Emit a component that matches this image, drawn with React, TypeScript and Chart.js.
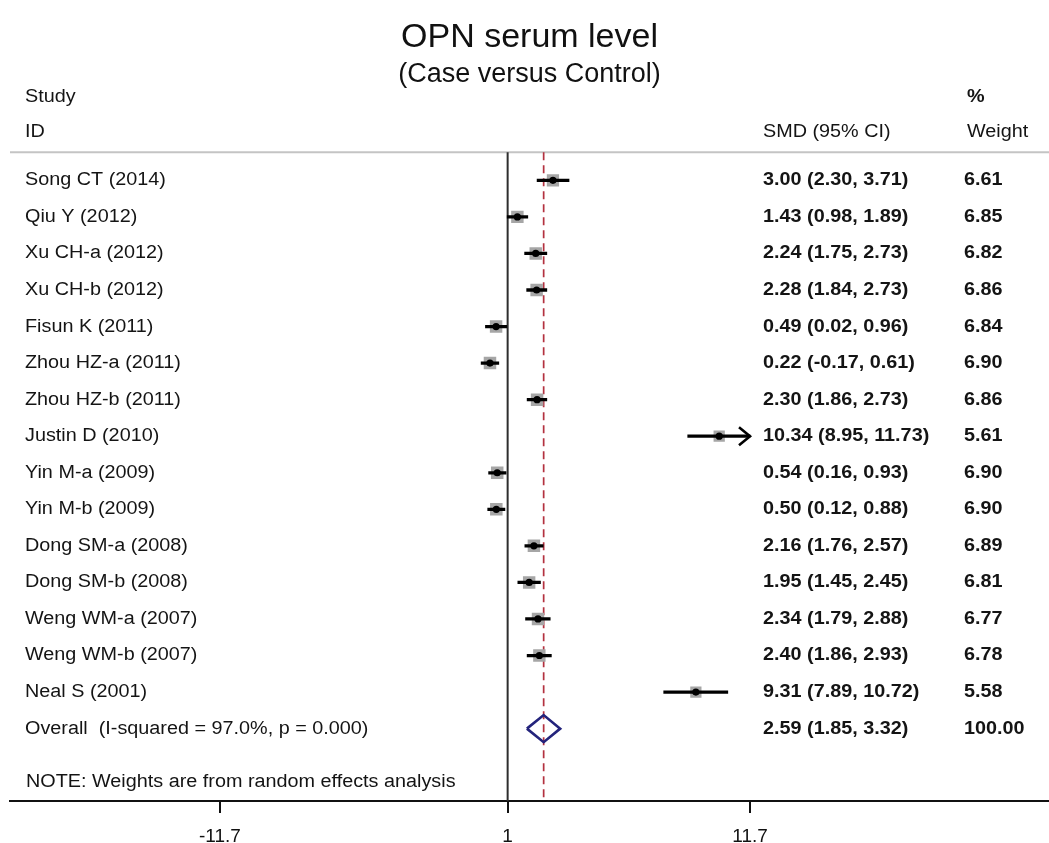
import { useEffect, useRef } from 'react';
import { Chart, registerables } from 'chart.js';

Chart.register(...registerables);

const titleText = 'OPN serum level';
const subtitleText = '(Case versus Control)';

const studies = [
  'Song CT (2014)',
  'Qiu Y (2012)',
  'Xu CH-a (2012)',
  'Xu CH-b (2012)',
  'Fisun K (2011)',
  'Zhou HZ-a (2011)',
  'Zhou HZ-b (2011)',
  'Justin D (2010)',
  'Yin M-a (2009)',
  'Yin M-b (2009)',
  'Dong SM-a (2008)',
  'Dong SM-b (2008)',
  'Weng WM-a (2007)',
  'Weng WM-b (2007)',
  'Neal S (2001)',
];
const smd = [3.0, 1.43, 2.24, 2.28, 0.49, 0.22, 2.3, 10.34, 0.54, 0.5, 2.16, 1.95, 2.34, 2.4, 9.31];
const ciLow = [2.3, 0.98, 1.75, 1.84, 0.02, -0.17, 1.86, 8.95, 0.16, 0.12, 1.76, 1.45, 1.79, 1.86, 7.89];
const ciHigh = [3.71, 1.89, 2.73, 2.73, 0.96, 0.61, 2.73, 11.73, 0.93, 0.88, 2.57, 2.45, 2.88, 2.93, 10.72];
const weights = [6.61, 6.85, 6.82, 6.86, 6.84, 6.9, 6.86, 5.61, 6.9, 6.9, 6.89, 6.81, 6.77, 6.78, 5.58];

const overallLabel = 'Overall  (I-squared = 97.0%, p = 0.000)';
const overallSmd = 2.59;
const overallLow = 1.85;
const overallHigh = 3.32;
const overallWeight = 100.0;

const noteText = 'NOTE: Weights are from random effects analysis';
const headerStudy = ['Study', 'ID'];
const headerEffect = 'SMD (95% CI)';
const headerWeight = ['%', 'Weight'];

const xTicks = [-11.7, 1, 11.7];
const nullValue = 1;

const FONT = "'Liberation Sans', Arial, Helvetica, sans-serif";
const STRETCH = 1.1;
const TEXT_SIZE = 18;

const xClipMin = xTicks[0];
const xClipMax = xTicks[xTicks.length - 1];
const overallRow = studies.length;
const noteRow = studies.length + 1.46;

const fmt = (v: number) => v.toFixed(2);

function drawText(ctx: CanvasRenderingContext2D, s: string, x: number, y: number, weight = 'normal') {
  ctx.save();
  ctx.translate(x, y);
  ctx.scale(STRETCH, 1);
  ctx.font = `${weight} ${TEXT_SIZE}px ${FONT}`;
  ctx.textBaseline = 'middle';
  ctx.textAlign = 'left';
  ctx.fillStyle = '#141414';
  ctx.fillText(s, 0, 0);
  ctx.restore();
}

const forestPlugin = {
  id: 'forestPlugin',
  beforeDatasetsDraw(chart: any) {
    const { ctx, chartArea, scales } = chart;
    const { top, bottom, left, right } = chartArea;
    const x = scales.x;
    ctx.save();
    ctx.strokeStyle = '#c4c4c4';
    ctx.lineWidth = 2;
    ctx.beginPath();
    ctx.moveTo(left, top);
    ctx.lineTo(right, top);
    ctx.stroke();
    const xn = x.getPixelForValue(nullValue);
    ctx.strokeStyle = '#2e2e2e';
    ctx.lineWidth = 2;
    ctx.beginPath();
    ctx.moveTo(xn, top);
    ctx.lineTo(xn, bottom);
    ctx.stroke();
    const xo = x.getPixelForValue(overallSmd);
    ctx.strokeStyle = '#b3313f';
    ctx.lineWidth = 1.7;
    ctx.setLineDash([8, 5]);
    ctx.beginPath();
    ctx.moveTo(xo, top);
    ctx.lineTo(xo, bottom);
    ctx.stroke();
    ctx.restore();
  },
  afterDatasetsDraw(chart: any) {
    const { ctx, chartArea, scales } = chart;
    const { top } = chartArea;
    const x = scales.x;
    const y = scales.y;
    ctx.save();
    ctx.strokeStyle = '#000';
    ctx.lineWidth = 2.6;
    ctx.lineJoin = 'miter';
    studies.forEach((_, i) => {
      const py = y.getPixelForValue(i);
      if (ciHigh[i] > xClipMax) {
        const px = x.getPixelForValue(xClipMax);
        ctx.beginPath();
        ctx.moveTo(px - 11, py - 9);
        ctx.lineTo(px, py);
        ctx.lineTo(px - 11, py + 9);
        ctx.stroke();
      }
      if (ciLow[i] < xClipMin) {
        const px = x.getPixelForValue(xClipMin);
        ctx.beginPath();
        ctx.moveTo(px + 11, py - 9);
        ctx.lineTo(px, py);
        ctx.lineTo(px + 11, py + 9);
        ctx.stroke();
      }
    });
    ctx.restore();

    const studyX = 25;
    const effectX = 763;
    const weightX = 964;
    drawText(ctx, headerStudy[0], studyX, top - 55);
    drawText(ctx, headerStudy[1], studyX, top - 20);
    drawText(ctx, headerEffect, effectX, top - 20);
    drawText(ctx, headerWeight[0], weightX + 3, top - 55, 'bold');
    drawText(ctx, headerWeight[1], weightX + 3, top - 20);
    studies.forEach((s, i) => {
      const py = y.getPixelForValue(i);
      drawText(ctx, s, studyX, py);
      drawText(ctx, `${fmt(smd[i])} (${fmt(ciLow[i])}, ${fmt(ciHigh[i])})`, effectX, py, 'bold');
      drawText(ctx, fmt(weights[i]), weightX, py, 'bold');
    });
    const po = y.getPixelForValue(overallRow);
    drawText(ctx, overallLabel, studyX, po);
    drawText(ctx, `${fmt(overallSmd)} (${fmt(overallLow)}, ${fmt(overallHigh)})`, effectX, po, 'bold');
    drawText(ctx, fmt(overallWeight), weightX, po, 'bold');
    drawText(ctx, noteText, studyX + 1, y.getPixelForValue(noteRow));
  },
};

export default function App() {
  const ref = useRef<HTMLCanvasElement | null>(null);
  useEffect(() => {
    document.body.style.margin = '0';
    const canvas = ref.current;
    if (!canvas) return;
    const boxSide = (w: number) => 12.5 * Math.sqrt(w / 6.9);
    const chart = new Chart(canvas, {
      type: 'scatter',
      data: {
        datasets: [
          {
            type: 'scatter',
            label: 'Overall',
            data: [
              { x: overallLow, y: overallRow },
              { x: overallSmd, y: overallRow - 0.37 },
              { x: overallHigh, y: overallRow },
              { x: overallSmd, y: overallRow + 0.37 },
              { x: overallLow, y: overallRow },
            ],
            showLine: true,
            borderColor: '#24247c',
            borderWidth: 2.6,
            pointRadius: 0,
            fill: false,
            order: 0,
          } as any,
          {
            type: 'scatter',
            label: 'Estimate',
            data: studies.map((_, i) => ({ x: smd[i], y: i })),
            pointStyle: 'circle',
            pointRadius: 3.6,
            backgroundColor: '#000',
            borderWidth: 0,
            order: 1,
          } as any,
          {
            type: 'bar',
            label: '95% CI',
            indexAxis: 'y',
            data: studies.map((_, i) => ({
              x: [Math.max(ciLow[i], xClipMin), Math.min(ciHigh[i], xClipMax)],
              y: i,
            })),
            backgroundColor: '#000',
            borderWidth: 0,
            barThickness: 2.6,
            order: 2,
          } as any,
          {
            type: 'scatter',
            label: 'Weight',
            data: studies.map((_, i) => ({ x: smd[i], y: i })),
            pointStyle: 'rect',
            pointRadius: (c: any) => boxSide(weights[c.dataIndex]) / Math.SQRT2,
            backgroundColor: '#a6a6a6',
            borderWidth: 0,
            order: 3,
          } as any,
        ],
      },
      options: {
        responsive: false,
        animation: false,
        layout: { autoPadding: false, padding: { left: 10, right: 0, top: 0, bottom: 0 } },
        events: [],
        plugins: {
          legend: { display: false },
          tooltip: { enabled: false },
          title: {
            display: true,
            text: titleText,
            color: '#111',
            font: { family: FONT, size: 34, weight: 'normal' },
            padding: { top: 17, bottom: 0 },
          },
          subtitle: {
            display: true,
            text: subtitleText,
            color: '#111',
            font: { family: FONT, size: 27, weight: 'normal' },
            padding: { top: 1, bottom: 61 },
          },
        },
        scales: {
          x: {
            type: 'linear',
            min: -20.97,
            max: 24.9,
            afterBuildTicks: (s: any) => {
              s.ticks = xTicks.map((v) => ({ value: v }));
            },
            afterFit: (s: any) => {
              s.height = 42;
              s.paddingLeft = 0;
              s.paddingRight = 0;
            },
            grid: { drawOnChartArea: false, drawTicks: true, tickLength: 12, color: '#111', lineWidth: 2 },
            border: { display: true, color: '#111', width: 2 },
            ticks: {
              padding: 12,
              color: '#111',
              font: { family: FONT, size: 19 },
              autoSkip: false,
              maxRotation: 0,
              callback: (v: any) => String(v),
            },
          },
          y: {
            type: 'linear',
            min: -0.77,
            max: studies.length + 1.98,
            reverse: true,
            offset: false,
            grid: { offset: false },
            display: false,
          },
        },
      } as any,
      plugins: [forestPlugin],
    });
    return () => chart.destroy();
  }, []);
  return <canvas ref={ref} width={1049} height={843} style={{ display: 'block' }} />;
}
